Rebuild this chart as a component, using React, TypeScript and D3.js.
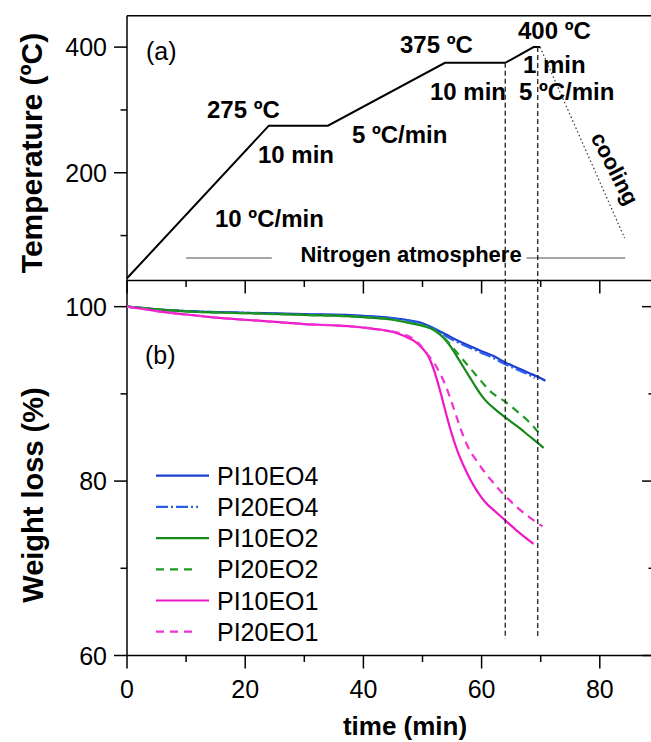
import React from 'react';
import * as d3 from 'd3';

// ---------- Data ----------
// (a) temperature program
const tempTimes = [0, 24, 34, 53.8, 64.0, 68.8, 69.9];
const tempValues = [32, 275, 275, 375, 375, 400, 400];
const coolTimes = [69.9, 84.2];
const coolValues = [400, 96];
const markerTimes = [64.0, 69.5];
const markerTemps = [375, 400];
const markerBottomWeight = 61.9;

// (b) weight loss curves
const pi10eo4Times = [0, 5, 10, 20, 30, 40, 45, 48, 50, 52, 54, 56, 58, 60, 62, 64, 66, 68, 70, 70.8];
const pi10eo4Values = [100, 99.7, 99.5, 99.3, 99.15, 98.95, 98.7, 98.4, 98.1, 97.5, 96.8, 96.1, 95.5, 94.9, 94.35, 93.6, 93.0, 92.4, 91.8, 91.5];

const pi20eo4Times = [0, 5, 10, 20, 30, 40, 45, 48, 50, 52, 54, 56, 58, 60, 62, 64, 66, 68, 69];
const pi20eo4Values = [100, 99.7, 99.5, 99.3, 99.1, 98.9, 98.65, 98.35, 98.0, 97.4, 96.6, 95.9, 95.3, 94.7, 94.1, 93.4, 92.8, 92.2, 91.8];

const pi10eo2Times = [0, 5, 10, 20, 30, 40, 45, 48, 50, 52, 53, 54, 55, 56, 57, 58, 59, 60, 61, 62, 64, 66, 68, 70, 70.5];
const pi10eo2Values = [100, 99.7, 99.45, 99.25, 99.05, 98.8, 98.5, 98.1, 97.8, 97.3, 96.8, 96.1, 95.2, 94.1, 93.0, 91.9, 90.8, 89.8, 89.0, 88.4, 87.3, 86.3, 85.2, 84.1, 83.8];

const pi20eo2Times = [0, 5, 10, 20, 30, 40, 45, 48, 50, 52, 53, 54, 55, 56, 57, 58, 59, 60, 61, 62, 64, 66, 68, 69.6];
const pi20eo2Values = [100, 99.7, 99.45, 99.25, 99.05, 98.8, 98.5, 98.1, 97.9, 97.3, 96.8, 96.2, 95.4, 94.6, 93.8, 93.0, 92.2, 91.4, 90.6, 90.0, 89.1, 88.0, 86.8, 85.6];

const pi10eo1Times = [0, 3, 6, 10, 15, 20, 25, 30, 35, 40, 43, 45, 47, 48.5, 50, 51, 52, 53, 54, 55, 56, 57, 58, 59, 60, 61, 62, 64, 66, 68.8];
const pi10eo1Values = [100, 99.7, 99.4, 99.1, 98.75, 98.5, 98.25, 98.0, 97.85, 97.6, 97.35, 97.1, 96.6, 96.1, 95.2, 94.3, 92.6, 90.3, 87.7, 85.3, 83.3, 81.7, 80.3, 79.1, 78.1, 77.3, 76.7, 75.5, 74.3, 72.8];

const pi20eo1Times = [0, 3, 6, 10, 15, 20, 25, 30, 35, 40, 43, 45, 47, 48.5, 50, 51, 52, 53, 54, 55, 56, 57, 58, 59, 60, 61, 62, 63, 64, 66, 68, 70.3];
const pi20eo1Values = [100, 99.7, 99.4, 99.1, 98.75, 98.5, 98.25, 98.0, 97.85, 97.6, 97.35, 97.15, 96.8, 96.3, 95.3, 94.4, 93.5, 92.3, 90.8, 88.9, 86.9, 85.0, 83.5, 82.5, 81.5, 80.6, 79.8, 79.0, 78.3, 77.0, 75.9, 74.8];

const seriesNames = ['PI10EO4', 'PI20EO4', 'PI10EO2', 'PI20EO2', 'PI10EO1', 'PI20EO1'];
const seriesColors = ['#1c3dd4', '#2b5de8', '#16891a', '#1f9a28', '#ef18c8', '#f032d0'];
const seriesDash = ['', '12,3,2,3', '', '8,6', '', '8,6'];

const xTicks = [0, 10, 20, 30, 40, 50, 60, 70, 80];
const xTickLabels = [0, 20, 40, 60, 80];
const tempTicks = [100, 200, 300, 400];
const tempTickLabels = [200, 400];
const weightTicks = [60, 70, 80, 90, 100];
const weightTickLabels = [60, 80, 100];

const FONT = 'Liberation Sans, Arial, Helvetica, sans-serif';

// ---------- Scales ----------
const LEFT = 127;
const RIGHT = 655;
const TOP = 15.7;
const MID = 280.5;
const BOTTOM = 655.5;

const x = d3.scaleLinear().domain([0, (RIGHT - LEFT) / 5.91]).range([LEFT, RIGHT]);
const yT = d3.scaleLinear().domain([28.5, 450]).range([MID, TOP]);
const yW = d3.scaleLinear().domain([60, 103]).range([BOTTOM, MID]);

const zipPts = (ts: number[], vs: number[]) => ts.map((t, i) => [t, vs[i]] as [number, number]);

const lineT = d3.line<[number, number]>().x(d => x(d[0])).y(d => yT(d[1]));
const lineW = d3.line<[number, number]>().x(d => x(d[0])).y(d => yW(d[1])).curve(d3.curveMonotoneX);

const seriesData = [
  zipPts(pi10eo4Times, pi10eo4Values),
  zipPts(pi20eo4Times, pi20eo4Values),
  zipPts(pi10eo2Times, pi10eo2Values),
  zipPts(pi20eo2Times, pi20eo2Values),
  zipPts(pi10eo1Times, pi10eo1Values),
  zipPts(pi20eo1Times, pi20eo1Values),
];

const Label = ({ x: px, y: py, size = 24, bold = true, anchor = 'start', children, rotate = 0 }: any) => (
  <text
    x={0}
    y={0}
    transform={`translate(${px},${py}) rotate(${rotate})`}
    fontFamily={FONT}
    fontSize={size}
    fontWeight={bold ? 'bold' : 'normal'}
    textAnchor={anchor}
    fill="#000"
  >
    {children}
  </text>
);

export default function App() {
  const axisStroke = '#000';
  const aw = 1.5;
  const legendY0 = 475.7;
  const legendDy = 31.2;

  return (
    <div>
      <style>{'body{margin:0;background:#fff}'}</style>
      <svg width={651} height={742} style={{ display: 'block', background: '#fff' }}>
        {/* Frames */}
        <line x1={LEFT} x2={RIGHT} y1={TOP} y2={TOP} stroke={axisStroke} strokeWidth={aw} />
        <line x1={LEFT} x2={RIGHT} y1={MID} y2={MID} stroke={axisStroke} strokeWidth={aw} />
        <line x1={LEFT} x2={RIGHT} y1={BOTTOM} y2={BOTTOM} stroke={axisStroke} strokeWidth={aw} />
        <line x1={LEFT} x2={LEFT} y1={TOP} y2={BOTTOM} stroke={axisStroke} strokeWidth={aw} />
        <line x1={RIGHT} x2={RIGHT} y1={TOP} y2={BOTTOM} stroke={axisStroke} strokeWidth={aw} />

        {/* X ticks on top panel bottom and bottom panel bottom */}
        {xTicks.map(t => {
          const major = xTickLabels.includes(t);
          const len = major ? 13 : 6.5;
          return (
            <g key={'xt' + t}>
              <line x1={x(t)} x2={x(t)} y1={MID} y2={MID + len} stroke={axisStroke} strokeWidth={aw} />
              <line x1={x(t)} x2={x(t)} y1={BOTTOM} y2={BOTTOM + len} stroke={axisStroke} strokeWidth={aw} />
            </g>
          );
        })}
        {xTickLabels.map(t => (
          <Label key={'xl' + t} x={x(t)} y={698} size={25} bold={false} anchor="middle">{t}</Label>
        ))}

        {/* Temperature ticks */}
        {tempTicks.map(v => {
          const major = tempTickLabels.includes(v);
          const len = major ? 13 : 6.5;
          return <line key={'tt' + v} x1={LEFT - len} x2={LEFT} y1={yT(v)} y2={yT(v)} stroke={axisStroke} strokeWidth={aw} />;
        })}
        {tempTickLabels.map(v => (
          <Label key={'tl' + v} x={107} y={yT(v) + 9} size={25} bold={false} anchor="end">{v}</Label>
        ))}

        {/* Weight ticks */}
        {weightTicks.map(v => {
          const major = weightTickLabels.includes(v);
          const len = major ? 13 : 6.5;
          return (
            <g key={'wt' + v}>
              <line x1={LEFT - len} x2={LEFT} y1={yW(v)} y2={yW(v)} stroke={axisStroke} strokeWidth={aw} />
              <line x1={RIGHT - len} x2={RIGHT} y1={yW(v)} y2={yW(v)} stroke={axisStroke} strokeWidth={aw} />
            </g>
          );
        })}
        {weightTickLabels.map(v => (
          <Label key={'wl' + v} x={107} y={yW(v) + 9} size={25} bold={false} anchor="end">{v}</Label>
        ))}

        {/* Axis titles */}
        <Label x={42} y={153} size={30} anchor="middle" rotate={-90}>Temperature (ºC)</Label>
        <Label x={43} y={495} size={29} anchor="middle" rotate={-90}>Weight loss (%)</Label>
        <Label x={405} y={735} size={26} anchor="middle">time (min)</Label>

        {/* Panel labels */}
        <Label x={146} y={60} size={25} bold={false}>(a)</Label>
        <Label x={145} y={364} size={25} bold={false}>(b)</Label>

        {/* Temperature program */}
        <path d={lineT(zipPts(tempTimes, tempValues)) || ''} fill="none" stroke="#000" strokeWidth={2} />
        <path d={lineT(zipPts(coolTimes, coolValues)) || ''} fill="none" stroke="#333" strokeWidth={1.2} strokeDasharray="1.5,2.5" />

        {/* Nitrogen atmosphere lines */}
        <line x1={x(10)} x2={x(24.5)} y1={yT(64.4)} y2={yT(64.4)} stroke="#888" strokeWidth={1.4} />
        <line x1={x(67.6)} x2={x(84.3)} y1={yT(64.4)} y2={yT(64.4)} stroke="#888" strokeWidth={1.4} />
        <Label x={411} y={262} size={22} anchor="middle">Nitrogen atmosphere</Label>

        {/* Annotations */}
        <Label x={207} y={118}>275 ºC</Label>
        <Label x={258} y={163}>10 min</Label>
        <Label x={215} y={227}>10 ºC/min</Label>
        <Label x={352} y={143}>5 ºC/min</Label>
        <Label x={400} y={53}>375 ºC</Label>
        <Label x={430} y={100}>10 min</Label>
        <Label x={518} y={39}>400 ºC</Label>
        <Label x={523} y={73}>1 min</Label>
        <Label x={519} y={100}>5 ºC/min</Label>
        <Label x={608} y={172} size={22} anchor="middle" rotate={63}>cooling</Label>

        {/* Weight loss curves */}
        {seriesData.map((pts, i) => (
          <path
            key={seriesNames[i]}
            d={lineW(pts) || ''}
            fill="none"
            stroke={seriesColors[i]}
            strokeWidth={2.2}
            strokeDasharray={seriesDash[i] || undefined}
          />
        ))}

        {/* Vertical dashed markers */}
        {markerTimes.map((t, i) => (
          <line
            key={'m' + i}
            x1={x(t)}
            x2={x(t)}
            y1={yT(markerTemps[i])}
            y2={yW(markerBottomWeight)}
            stroke="#222"
            strokeWidth={1.3}
            strokeDasharray="5,3"
          />
        ))}

        {/* Legend */}
        {seriesNames.map((name, i) => {
          const yy = legendY0 + i * legendDy;
          const dashed = !!seriesDash[i];
          return (
            <g key={'lg' + name}>
              <line
                x1={156}
                x2={dashed ? 198 : 209}
                y1={yy}
                y2={yy}
                stroke={seriesColors[i]}
                strokeWidth={2.2}
                strokeDasharray={seriesDash[i] || undefined}
              />
              <Label x={217} y={yy + 9} size={25} bold={false}>{name}</Label>
            </g>
          );
        })}
      </svg>
    </div>
  );
}
